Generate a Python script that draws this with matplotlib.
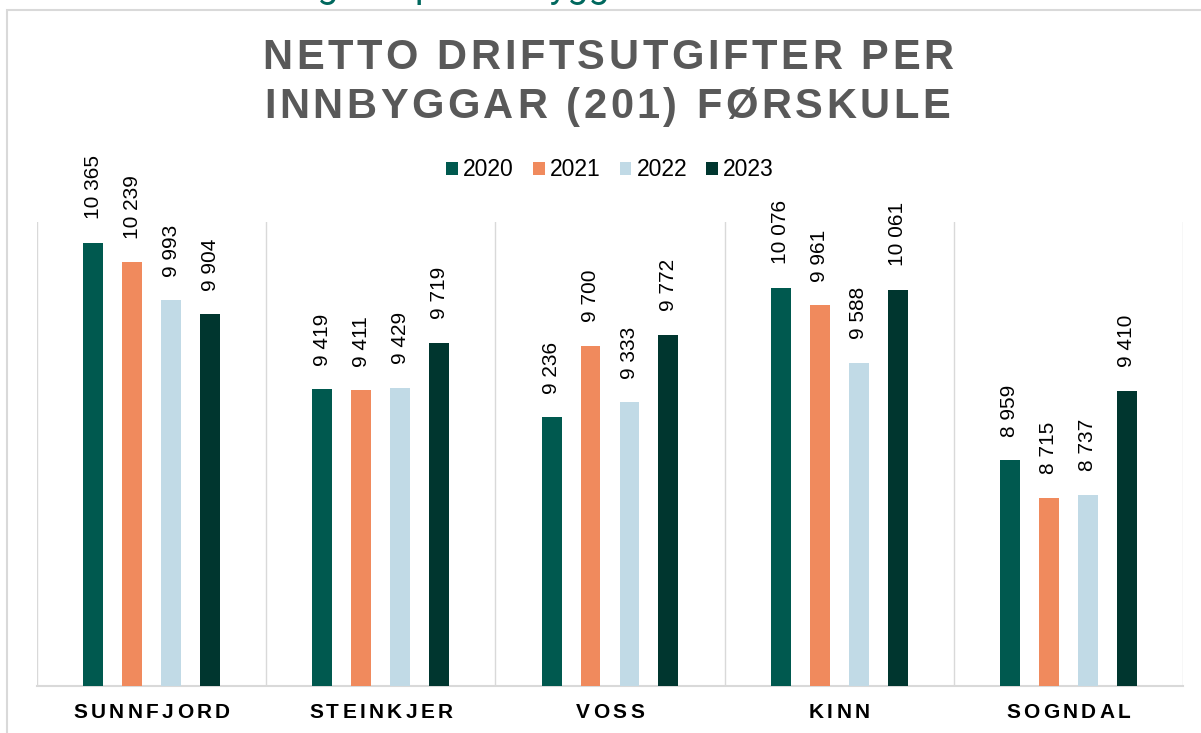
import matplotlib
matplotlib.use('Agg')
import matplotlib.pyplot as plt
import matplotlib.transforms as mtransforms
from matplotlib import font_manager
from matplotlib.patches import Rectangle

# data
municipalities = ['SUNNFJORD', 'STEINKJER', 'VOSS', 'KINN', 'SOGNDAL']
years = ['2020', '2021', '2022', '2023']
v2020 = [10365, 9419, 9236, 10076, 8959]
v2021 = [10239, 9411, 9700, 9961, 8715]
v2022 = [9993, 9429, 9333, 9588, 8737]
v2023 = [9904, 9719, 9772, 10061, 9410]
series = [v2020, v2021, v2022, v2023]
colors = ['#00594F', '#F08A5D', '#C1DAE6', '#00362F']

DPI = 100
W, H = 1201, 733


def advances(s, size, weight='bold', family='Liberation Sans'):
    # glyph advances in pixels, so we can add letter spacing
    fp = font_manager.FontProperties(family=family, weight=weight, size=size)
    font = font_manager.get_font(font_manager.findfont(fp))
    font.set_size(size, DPI)
    return [font.load_char(ord(c)).linearHoriAdvance / 65536 for c in s]


def spaced_text(fig, base_trans, x, y, s, size, spacing, dy=0, **kw):
    adv = advances(s, size)
    total = sum(adv) + spacing * (len(s) - 1)
    pos = -total / 2
    for c, a in zip(s, adv):
        tr = base_trans + mtransforms.ScaledTranslation(pos / DPI, dy / DPI, fig.dpi_scale_trans)
        fig.text(x, y, c, transform=tr, fontsize=size, fontweight='bold',
                 family='Liberation Sans', ha='left', va='baseline', **kw)
        pos += a + spacing


fig = plt.figure(figsize=(W / DPI, H / DPI), dpi=DPI)

# frame of the slide box (only left and top visible)
fig.patches.append(Rectangle((7 / W, -0.1), 1.2, 1 - 10.5 / H + 0.1, transform=fig.transFigure,
                             fill=False, edgecolor='#D9D9D9', linewidth=1.5))

# cut off heading above the box
fig.text(95 / W, 1 + 3 / H, 'Netto driftsutgifter per innbyggar', family='Roboto',
         fontsize=27, color='#00685E', ha='left', va='baseline')

ax = fig.add_axes([37 / W, 47 / H, 1146 / W, 464 / H])

width = 0.087
step = 0.17
x = range(len(municipalities))
for k, (vals, col, yr) in enumerate(zip(series, colors, years)):
    xs = [i + (k - 1.5) * step for i in x]
    ax.bar(xs, vals, width=width, color=col, label=yr, zorder=3)
    for xi, v in zip(xs, vals):
        ax.annotate(f'{v:,}'.replace(',', ' '), xy=(xi, v), xytext=(0, 17),
                    textcoords='offset points', rotation=90, ha='center', va='bottom',
                    fontsize=15, family='Liberation Sans', color='#000000')

ax.set_xlim(-0.5, len(municipalities) - 0.5)
ax.set_ylim(7500, 10500)
for k in range(len(municipalities) + 1):
    ax.axvline(k - 0.5, color='#D9D9D9', linewidth=1, zorder=1)
for s in ['top', 'right', 'left']:
    ax.spines[s].set_visible(False)
ax.spines['bottom'].set_color('#D9D9D9')
ax.spines['bottom'].set_linewidth(1.5)
ax.set_xticks([])
ax.set_yticks([])

# category labels with letter spacing
blend = mtransforms.blended_transform_factory(ax.transData, ax.transAxes)
for i, name in enumerate(municipalities):
    spaced_text(fig, blend, i, 0, name, 15, 3.3, dy=-32, color='#000000')

# title
spaced_text(fig, fig.transFigure, 608 / W, 1 - 69 / H, 'NETTO DRIFTSUTGIFTER PER', 30, 3.6,
            color='#595959')
spaced_text(fig, fig.transFigure, 607 / W, 1 - 118 / H, 'INNBYGGAR (201) FØRSKULE', 30, 3.6,
            color='#595959')

fig.legend(loc='center', bbox_to_anchor=(610 / W, 1 - 170 / H), ncol=4, frameon=False,
           prop={'family': 'Liberation Sans', 'size': 16.5}, handlelength=0.52,
           handleheight=0.52, handletextpad=0.22, columnspacing=0.83)

fig.savefig('out.png', dpi=DPI)
